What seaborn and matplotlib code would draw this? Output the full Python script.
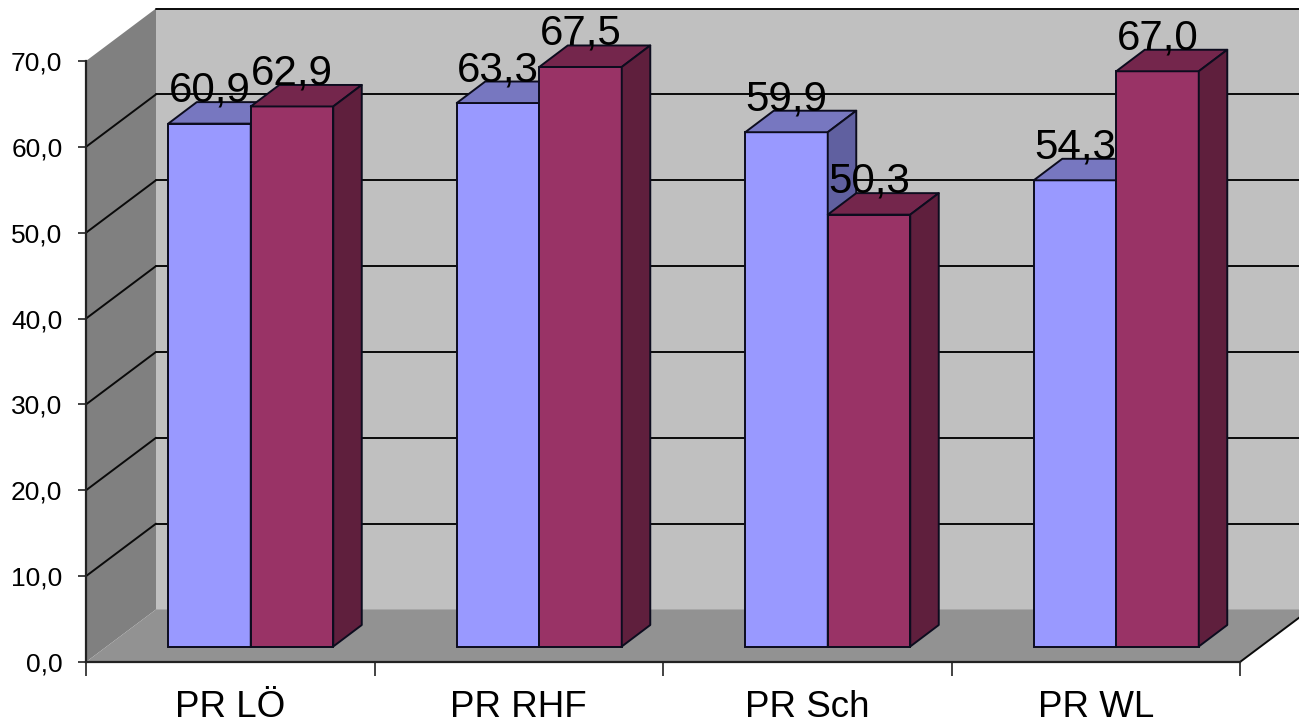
import matplotlib
matplotlib.use("Agg")
import matplotlib.pyplot as plt
from matplotlib.patches import Polygon
import pandas as pd
import seaborn as sns

categories = ["PR LÖ", "PR RHF", "PR Sch", "PR WL"]
series_a = [60.9, 63.3, 59.9, 54.3]
series_b = [62.9, 67.5, 50.3, 67.0]
y_ticks = [0, 10, 20, 30, 40, 50, 60, 70]

W, H = 1299, 723
LEFT, RIGHT, BOTTOM, TOP = 86, 1240, 662, 61
sns.set_theme(style="white")
plt.rcParams["font.family"] = ["Liberation Sans", "DejaVu Sans"]

fig = plt.figure(figsize=(W / 100, H / 100), dpi=100, facecolor="white")
ax = fig.add_axes([LEFT / W, 1 - BOTTOM / H, (RIGHT - LEFT) / W, (BOTTOM - TOP) / H])
ax.set_facecolor("none")

df = pd.DataFrame({
    "cat": categories * 2,
    "val": series_a + series_b,
    "ser": ["A"] * len(categories) + ["B"] * len(categories),
})
EDGE = "#0c0c1e"
sns.barplot(data=df, x="cat", y="val", hue="ser", order=categories, hue_order=["A", "B"],
            palette=["#9999ff", "#993366"], width=0.572, gap=0, legend=False, ax=ax,
            edgecolor=EDGE, linewidth=1.4, saturation=1)
ax.set_xlim(-0.5, 3.5)
ax.set_ylim(0, 70)

# pixel -> data conversion
sx = 4 / (RIGHT - LEFT)
sy = 70 / (BOTTOM - TOP)
WALL_DX, WALL_DY = 70 * sx, 52.5 * sy
BAR_DX, BAR_DY = 20.5 * sx, 15.5 * sy
DEPTH_DX, DEPTH_DY = 28.5 * sx, 21.5 * sy
x0, x1 = ax.get_xlim()

def poly(pts, fc, z, ec="none", lw=0):
    ax.add_patch(Polygon(pts, closed=True, facecolor=fc, edgecolor=ec, linewidth=lw,
                         zorder=z, clip_on=False, joinstyle="round"))

# walls and floor
poly([(x0 + WALL_DX, WALL_DY), (x1 + WALL_DX, WALL_DY), (x1 + WALL_DX, 70 + WALL_DY), (x0 + WALL_DX, 70 + WALL_DY)], "#c0c0c0", 0.1)
poly([(x0, 0), (x0 + WALL_DX, WALL_DY), (x0 + WALL_DX, 70 + WALL_DY), (x0, 70)], "#808080", 0.1)
poly([(x0, 0), (x1, 0), (x1 + WALL_DX, WALL_DY), (x0 + WALL_DX, WALL_DY)], "#929292", 0.2)

# gridlines
for t in y_ticks[1:]:
    ax.plot([x0 + WALL_DX, x1 + WALL_DX], [t + WALL_DY] * 2, color="#0a0a0a", lw=1.4, zorder=0.5, clip_on=False)
    if t < 70:
        ax.plot([x0, x0 + WALL_DX], [t, t + WALL_DY], color="#0a0a0a", lw=1.4, zorder=0.5, clip_on=False)
ax.plot([x1, x1 + WALL_DX], [0, WALL_DY], color="#0a0a0a", lw=1.4, zorder=0.5, clip_on=False)

# 3-D faces
faces = [("#7777c0", "#6060a0"), ("#74264c", "#5f1f3d")]
for k, cont in enumerate(ax.containers):
    for patch, value in zip(cont.patches, (series_a, series_b)[k]):
        patch.set_x(patch.get_x() + BAR_DX)
        patch.set_y(BAR_DY)
        patch.set_zorder(3 + k)
        xa, w = patch.get_x(), patch.get_width()
        xb = xa + w
        top = BAR_DY + value
        poly([(xa, top), (xb, top), (xb + DEPTH_DX, top + DEPTH_DY), (xa + DEPTH_DX, top + DEPTH_DY)], faces[k][0], 3 + k, EDGE, 1.4)
        poly([(xb, BAR_DY), (xb + DEPTH_DX, BAR_DY + DEPTH_DY), (xb + DEPTH_DX, top + DEPTH_DY), (xb, top)], faces[k][1], 3 + k, EDGE, 1.4)
        ax.text(xa + w / 2, top + 22 * sy, f"{value:.1f}".replace(".", ","), ha="center", va="baseline",
                fontsize=30.3, color="black", zorder=10, clip_on=False)

# axes
ax.set_xlabel("")
ax.set_ylabel("")
ax.set_yticks(y_ticks)
ax.set_yticklabels([f"{t:.1f}".replace(".", ",") for t in y_ticks], fontsize=19, color="black")
ax.set_xticks(range(len(categories)))
ax.set_xticklabels(categories, fontsize=26.5, color="black")
ax.set_xticks([x0 + i for i in range(len(categories) + 1)], minor=True)
ax.tick_params(axis="y", which="major", left=True, length=6, width=1.2, color="#222222", pad=11)
ax.tick_params(axis="x", which="major", bottom=False, length=0, pad=20)
ax.tick_params(axis="x", which="minor", bottom=True, length=10, width=1.2, color="#222222")
for s in ("top", "right"):
    ax.spines[s].set_visible(False)
for s in ("left", "bottom"):
    ax.spines[s].set_visible(True)
    ax.spines[s].set_color("#222222")
    ax.spines[s].set_linewidth(1.6)
    ax.spines[s].set_zorder(2)

fig.savefig("out.png", dpi=100, facecolor="white")
